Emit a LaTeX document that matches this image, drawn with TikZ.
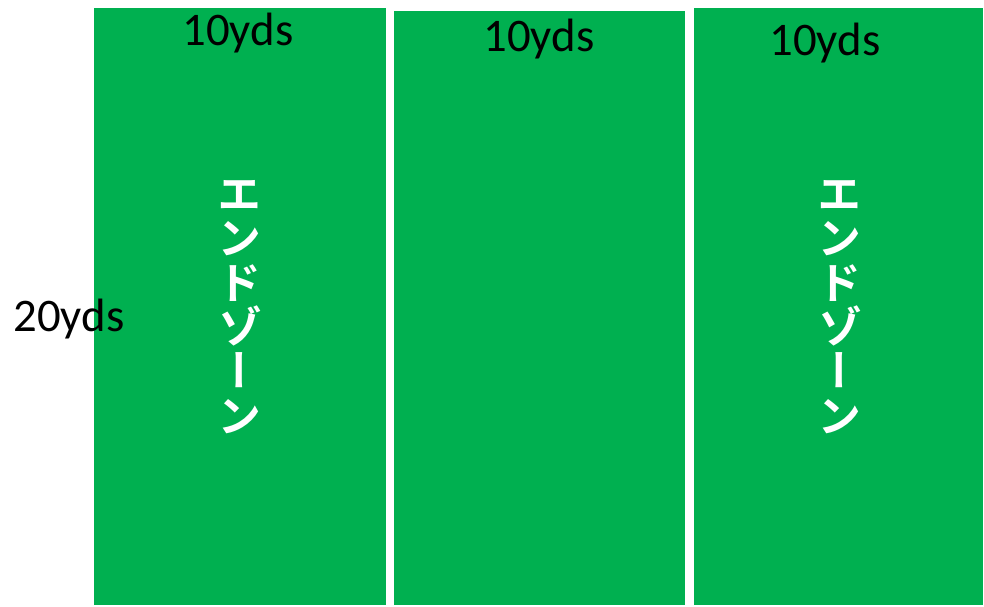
\documentclass[tikz,border=0pt]{standalone}
\usepackage{fontspec}
\setmainfont{Carlito}
\newfontfamily\cjk[RawFeature=+vert,BoldFont={Noto Sans CJK JP Bold}]{Noto Sans CJK JP}
\usetikzlibrary{positioning}
\definecolor{turf}{RGB}{0,176,80}

\tikzset{
  zone/.style={fill=turf,draw=white,line width=0.6pt},
  yds/.style={font=\fontsize{26.6}{28}\selectfont,inner sep=0pt,anchor=base},
  tate/.style={font=\cjk\bfseries\fontsize{25.2}{25.2}\selectfont,text=white,align=center,inner sep=0pt}
}

\begin{document}
\begin{tikzpicture}[x=0.02cm,y=-0.02cm]
    \useasboundingbox (0,0) rectangle (984,606);
    % three strips of the field
    \path[zone] (93,7) rectangle (387,606);
    \path[zone] (393,10) rectangle (686,606);
    \path[zone] (693,7) rectangle (984,606);
    \coordinate (stripL) at (240,307);
    \coordinate (stripR) at (840,307);
    % widths and length
    \node[yds] (wL) at (238,45) {10yds};
    \node[yds] (wM) at (539,51) {10yds};
    \node[yds] (wR) at (825,55) {10yds};
    \node[yds] (len) at (69,331) {20yds};
    % end zones, written top to bottom
    \node[tate] (endL) at (stripL) {エ\\ン\\ド\\ゾ\\ー\\ン};
    \node[tate] (endR) at (stripR) {エ\\ン\\ド\\ゾ\\ー\\ン};
\end{tikzpicture}
\end{document}
